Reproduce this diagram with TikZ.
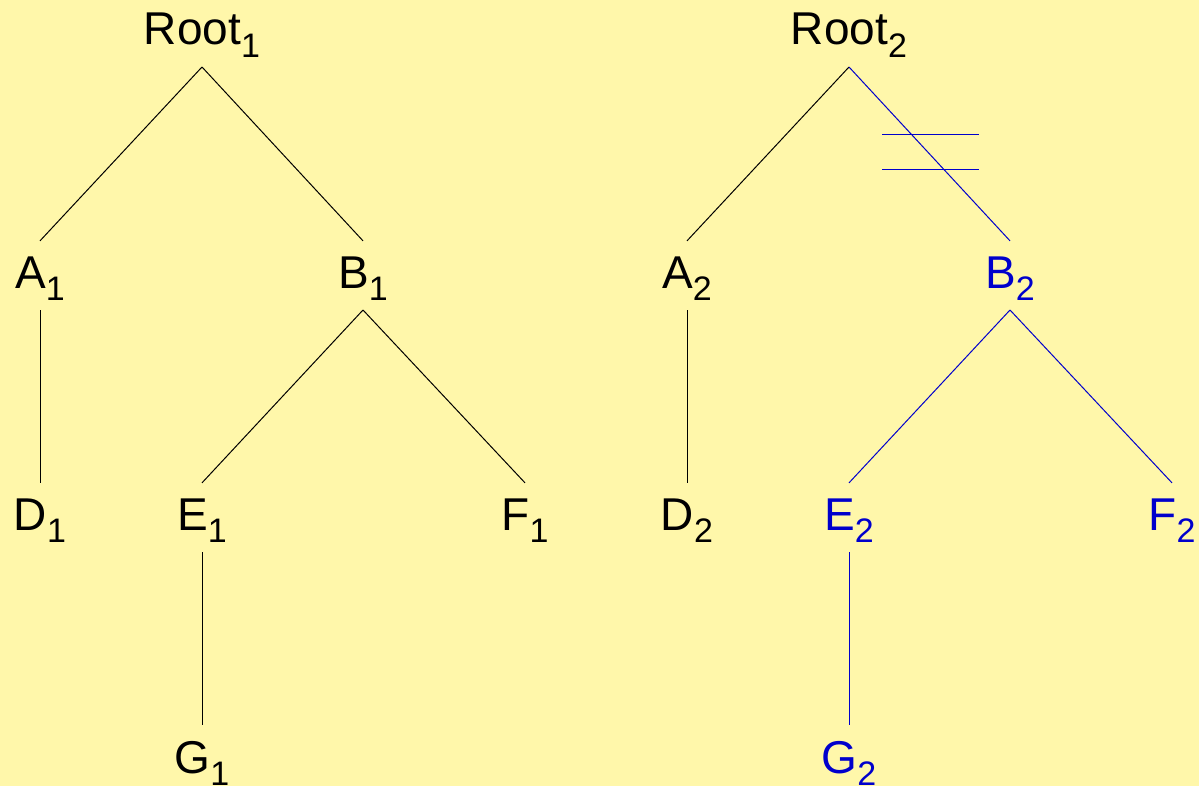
\documentclass[tikz,border=0pt]{standalone}
\usepackage{fontspec}
\setmainfont{Liberation Sans}
\usepackage{tikz}
\usepackage{xcolor}

\definecolor{bgyellow}{RGB}{255,247,170}
\definecolor{pathblue}{RGB}{0,0,204}
\newcommand{\sublabel}[2]{#1\raisebox{-6.25pt}{\fontsize{17}{17}\selectfont #2}}

\begin{document}
\begin{tikzpicture}[x=0.5pt, y=-0.5pt, line width=0.5pt,
    lbl/.style={inner sep=0pt, anchor=base, font=\fontsize{23}{28}\selectfont}]
    % Background
    \fill[bgyellow] (0,0) rectangle (1199,786);

    % Tree 1
    \node[lbl] (root1) at (202,45) {\sublabel{Root}{1}};
    \node[lbl] (a1) at (40,288) {\sublabel{A}{1}};
    \node[lbl] (b1) at (363,288) {\sublabel{B}{1}};
    \node[lbl] (d1) at (40,530) {\sublabel{D}{1}};
    \node[lbl] (e1) at (202,530) {\sublabel{E}{1}};
    \node[lbl] (f1) at (525,530) {\sublabel{F}{1}};
    \node[lbl] (g1) at (202,773) {\sublabel{G}{1}};

    % Tree 2
    \node[lbl] (root2) at (849,45) {\sublabel{Root}{2}};
    \node[lbl] (a2) at (687,288) {\sublabel{A}{2}};
    \node[lbl, pathblue] (b2) at (1010,288) {\sublabel{B}{2}};
    \node[lbl] (d2) at (687,530) {\sublabel{D}{2}};
    \node[lbl, pathblue] (e2) at (849,530) {\sublabel{E}{2}};
    \node[lbl, pathblue] (f2) at (1172,530) {\sublabel{F}{2}};
    \node[lbl, pathblue] (g2) at (849,773) {\sublabel{G}{2}};

    % Connections
    \foreach \p/\c in {root1/a1, root1/b1, a1/d1, b1/e1, b1/f1, e1/g1, root2/a2, a2/d2} {
        \draw ([yshift=-4.5pt]\p.south) -- ([yshift=7.5pt]\c.north);
    }
    \foreach \p/\c in {root2/b2, b2/e2, b2/f2, e2/g2} {
        \draw[pathblue] ([yshift=-4.5pt]\p.south) -- ([yshift=7.5pt]\c.north);
    }

    % Cut mark
    \draw[pathblue] (882,135) -- (979,135);
    \draw[pathblue] (882,170) -- (979,170);
\end{tikzpicture}
\end{document}
